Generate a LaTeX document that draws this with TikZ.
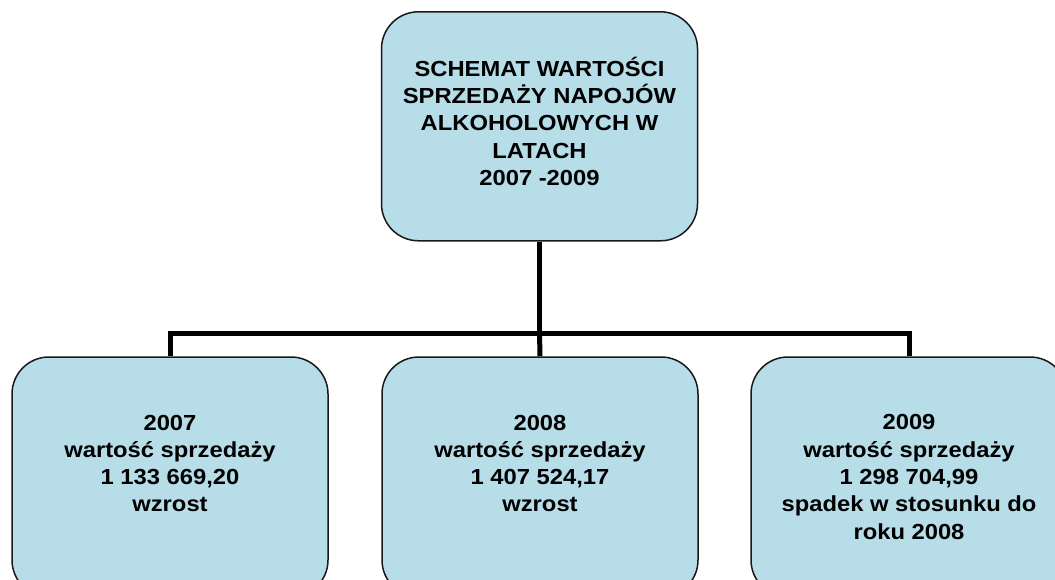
\documentclass[tikz,border=0pt]{standalone}
\usepackage{fontspec}
\setmainfont{Liberation Sans}[FakeStretch=1.09]
\definecolor{boxfill}{HTML}{B7DDE8}
\tikzset{
  sbox/.style={draw=black!90, line width=1.5pt, fill=boxfill, rounded corners=37pt,
    minimum width=316pt, minimum height=229pt, align=center, inner sep=0pt,
    font=\fontsize{21.8}{27.3}\selectfont\bfseries},
  bbox/.style={sbox, minimum height=240pt},
  conn/.style={line width=5pt, draw=black}
}
\begin{document}
\begin{tikzpicture}[x=1pt,y=1pt]
\useasboundingbox (0,0) rectangle (1055,-580);
\begin{scope}
\clip (0,0) rectangle (1055,-580);
\node[sbox] (top) at (539.5,-126.3) {SCHEMAT WARTOŚCI\\SPRZEDAŻY NAPOJÓW\\ALKOHOLOWYCH W\\LATACH\\2007 -2009\\[-17pt]\mbox{}};
\node[bbox] (b1) at (170,-477) {2007\\wartość sprzedaży\\1 133 669,20\\wzrost\\\mbox{}};
\node[bbox] (b2) at (540,-477) {2008\\wartość sprzedaży\\1 407 524,17\\wzrost\\\mbox{}};
\node[bbox] (b3) at (909,-477) {2009\\wartość sprzedaży\\1 298 704,99\\spadek w stosunku do\\roku 2008};
\coordinate (bus) at (540,-333);
\draw[conn] (top.south) -- (top.south |- bus);
\draw[conn] (b1.north) -- (b1.north |- bus) -- (b3.north |- bus) -- (b3.north);
\draw[conn] (top.south |- bus) -- (b2.north);
\end{scope}
\end{tikzpicture}
\end{document}
